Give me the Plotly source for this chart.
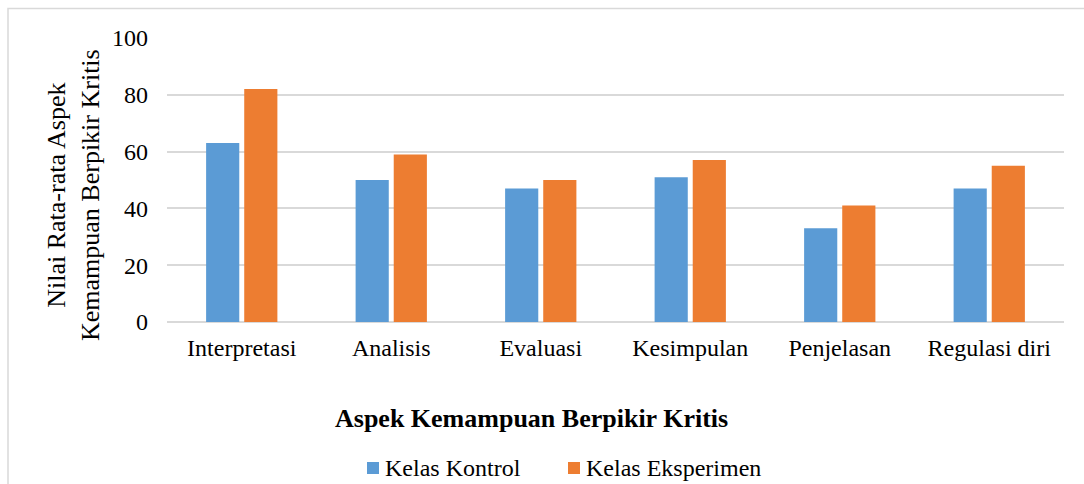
import plotly.graph_objects as go

categories = ["Interpretasi", "Analisis", "Evaluasi", "Kesimpulan", "Penjelasan", "Regulasi diri"]
kontrol = [63, 50, 47, 51, 33, 47]
eksperimen = [82, 59, 50, 57, 41, 55]
series_names = ["Kelas Kontrol", "Kelas Eksperimen"]
series_colors = ["#5B9BD5", "#ED7D31"]
y_ticks = [0, 20, 40, 60, 80, 100]
x_title = "Aspek Kemampuan Berpikir Kritis"
y_title = "Nilai Rata-rata Aspek<br>Kemampuan Berpikir Kritis"

FONT = "Liberation Serif"
GRID = "#d9d9d9"

W, H = 1084, 484
ML, MR, MT, MB = 167, 20, 38, 162
PW, PH = W - ML - MR, H - MT - MB


def px_x(px):
    return (px - ML) / PW


def px_y(py):
    return (H - MB - py) / PH


fig = go.Figure()
for name, vals, col in zip(series_names, [kontrol, eksperimen], series_colors):
    fig.add_trace(go.Bar(x=categories, y=vals, name=name,
                         marker=dict(color=col, line=dict(width=0))))

fig.update_layout(
    width=W, height=H,
    margin=dict(l=ML, r=MR, t=MT, b=MB, autoexpand=False),
    paper_bgcolor="white", plot_bgcolor="white",
    barmode="group", bargap=0.49, bargroupgap=0.13,
    font=dict(family=FONT, size=24, color="black"),
    showlegend=False,
    xaxis=dict(showgrid=False, showline=False, ticks="", zeroline=False,
               tickfont=dict(family=FONT, size=24, color="black"), ticklabelstandoff=9),
    yaxis=dict(range=[0, 100], tickvals=y_ticks, showgrid=True, gridcolor=GRID, gridwidth=1.5,
               zeroline=True, zerolinecolor=GRID, zerolinewidth=1.5, showline=False, ticks="",
               tickfont=dict(family=FONT, size=24, color="black"), ticklabelstandoff=18),
)

fig.add_annotation(text="<b>" + x_title + "</b>", xref="paper", yref="paper",
                   x=px_x(531), y=px_y(418), xanchor="center", yanchor="middle", showarrow=False,
                   font=dict(family=FONT, size=26, color="black"))
fig.add_annotation(text=y_title, xref="paper", yref="paper", textangle=-90,
                   x=px_x(73), y=px_y(195), xanchor="center", yanchor="middle", showarrow=False,
                   font=dict(family=FONT, size=26, color="black"))

# manual legend
legend_sq_left = [367, 568]
legend_y = 468
for name, col, sx in zip(series_names, series_colors, legend_sq_left):
    fig.add_shape(type="rect", xref="paper", yref="paper",
                  x0=px_x(sx), x1=px_x(sx + 12), y0=px_y(legend_y + 6), y1=px_y(legend_y - 6),
                  line=dict(width=0), fillcolor=col)
    fig.add_annotation(text=name, xref="paper", yref="paper",
                       x=px_x(sx + 16), y=px_y(legend_y), xanchor="left", yanchor="middle",
                       showarrow=False, font=dict(family=FONT, size=24, color="black"))

fig.add_shape(type="rect", xref="paper", yref="paper",
              x0=px_x(8), x1=px_x(1200), y0=px_y(700), y1=px_y(8.5),
              line=dict(color=GRID, width=1.5), fillcolor="rgba(0,0,0,0)", layer="below")

fig.write_html("out.html")
